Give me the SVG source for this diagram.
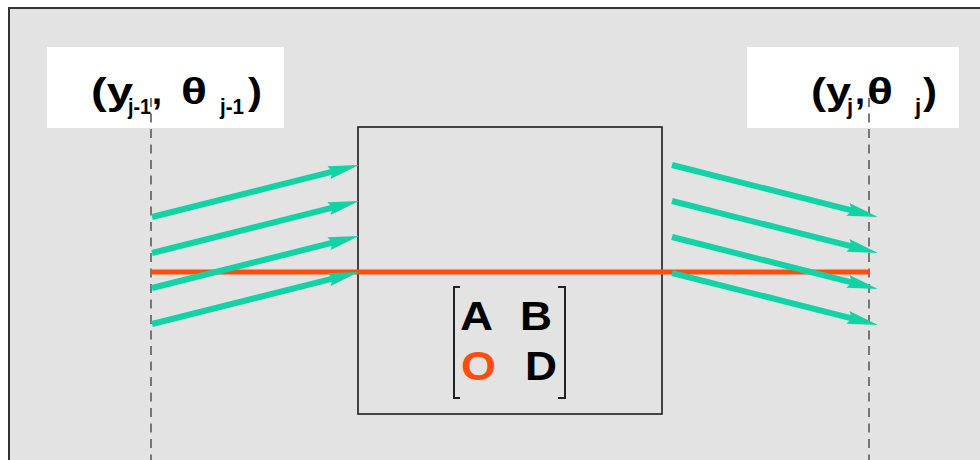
<svg xmlns="http://www.w3.org/2000/svg" width="980" height="460" viewBox="0 0 980 460">
<defs>
<style>
.lbl{font-family:"Liberation Sans",Arial,sans-serif;font-weight:bold;fill:#000}
.big{font-size:36px}
.sub{font-size:22px}
.mx{font-family:"Liberation Sans",Arial,sans-serif;font-weight:bold;font-size:40px;text-anchor:middle}
.ray{stroke:#12d3a6;stroke-width:6;fill:none;marker-end:url(#ah)}
.ref{stroke:#6a6a6a;stroke-width:1.8;stroke-dasharray:9 6.5;fill:none}
.brk{stroke:#222;stroke-width:2;fill:none}
</style>
<marker id="ah" markerUnits="userSpaceOnUse" orient="auto" refX="0" refY="0" markerWidth="40" markerHeight="20" overflow="visible">
<path d="M20,0 L-11,-6.5 L-7,0 L-11,6.5 Z" fill="#12d3a6"/>
</marker>
</defs>
<rect x="0" y="0" width="980" height="460" fill="#ffffff"/>
<rect id="frame" x="9" y="8" width="1000" height="500" fill="#e3e3e3" stroke="#333" stroke-width="2"/>

<g id="label-left">
<rect x="47" y="47" width="237" height="81" fill="#ffffff"/>
</g>
<g id="label-right">
<rect x="747" y="47" width="212" height="81" fill="#ffffff"/>
</g>

<g id="block">
<rect x="358" y="127" width="304" height="287" fill="none" stroke="#111" stroke-width="1.5"/>
</g>

<g id="connectors">
<line class="ref" x1="151" y1="98" x2="151" y2="460"/>
<line class="ref" x1="869" y1="98" x2="869" y2="460"/>
<line x1="151" y1="272" x2="869" y2="272" stroke="#ff4d0d" stroke-width="5"/>
<line class="ray" x1="152" y1="217" x2="339.6" y2="169.9"/>
<line class="ray" x1="152" y1="253" x2="339.6" y2="205.9"/>
<line class="ray" x1="152" y1="288" x2="339.6" y2="240.9"/>
<line class="ray" x1="152" y1="324" x2="339.6" y2="276.9"/>
<line class="ray" x1="672" y1="165" x2="858.6" y2="212.1"/>
<line class="ray" x1="672" y1="201" x2="858.6" y2="248.1"/>
<line class="ray" x1="672" y1="237" x2="858.6" y2="284.1"/>
<line class="ray" x1="672" y1="273" x2="858.6" y2="320.1"/>
</g>

<g id="label-left-text" class="lbl">
<text class="big" x="91" y="104" textLength="42" lengthAdjust="spacingAndGlyphs">(y</text>
<text class="sub" x="128" y="114" textLength="23" lengthAdjust="spacingAndGlyphs">j-1</text>
<text class="big" x="152" y="104">,</text>
<text class="big" x="181" y="104" textLength="26" lengthAdjust="spacingAndGlyphs">θ</text>
<text class="sub" x="220" y="114" textLength="24" lengthAdjust="spacingAndGlyphs">j-1</text>
<text class="big" x="248" y="104" textLength="14" lengthAdjust="spacingAndGlyphs">)</text>
</g>
<g id="label-right-text" class="lbl">
<text class="big" x="811" y="104" textLength="40" lengthAdjust="spacingAndGlyphs">(y</text>
<text class="sub" x="847" y="114">j</text>
<text class="big" x="855" y="104">,</text>
<text class="big" x="867" y="104" textLength="26" lengthAdjust="spacingAndGlyphs">θ</text>
<text class="sub" x="915" y="114">j</text>
<text class="big" x="923" y="104" textLength="14" lengthAdjust="spacingAndGlyphs">)</text>
</g>

<g id="matrix">
<path class="brk" d="M460,287 H454 V398 H460"/>
<path class="brk" d="M558,287 H565 V398 H558"/>
<text class="mx" x="476.5" y="330" textLength="33" lengthAdjust="spacingAndGlyphs" fill="#000">A</text>
<text class="mx" x="536" y="330" textLength="32" lengthAdjust="spacingAndGlyphs" fill="#000">B</text>
<text class="mx" x="478.5" y="380" textLength="35" lengthAdjust="spacingAndGlyphs" fill="#ff4d0d">O</text>
<text class="mx" x="541" y="380" textLength="32" lengthAdjust="spacingAndGlyphs" fill="#000">D</text>
</g>
</svg>
